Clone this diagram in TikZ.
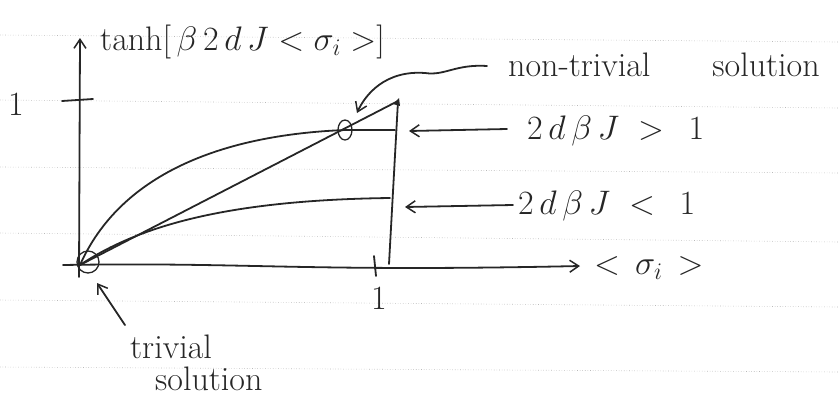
\RequirePackage{fix-cm}
\documentclass[tikz,border=0pt]{standalone}
\usetikzlibrary{arrows.meta}
\begin{document}
\begin{tikzpicture}[x=1pt,y=-1pt,
  ink/.style={line width=1.8pt,line cap=round,line join=round,black!85},
  barb/.style={-{Straight Barb[length=9pt,width=12pt,line width=1.5pt]}},
  rule/.style={gray!55,dotted,line width=0.6pt},
  lbl/.style={font=\fontsize{34}{36}\selectfont,inner sep=0pt,text=black!85},
  ]
\useasboundingbox (0,0) rectangle (838,397);
% ruled paper
\foreach \a/\b in {35/42,100/108,167/173,233/242,300/307,367/372}
  \draw[rule] (0,\a) -- (838,\b);
% coordinates
\coordinate (O) at (80,265);
\coordinate (ybot) at (79,277);
\coordinate (ytop) at (80,38);
\coordinate (xl) at (63,265);
\coordinate (xr) at (580,266);
\coordinate (P) at (345,130);
\coordinate (top) at (398,101);
\coordinate (vb) at (389,264);
\coordinate (c1e) at (395,130);
\coordinate (c2e) at (390,198);
% axes
\draw[ink,barb] (ybot) -- (ytop);
\draw[ink,barb] (xl) .. controls (250,262) and (300,272) .. (xr);
% ticks
\draw[ink] (62,101) -- (93,99);
\draw[ink] (374,256) -- (376,276);
% vertical line at 1
\draw[ink] (top) -- (vb);
\fill[black!85] (top) ++(-5,3) -- ++(6,-6) -- ++(1,8) -- cycle;
% curves
\draw[ink] (O) .. controls (120,175) and (220,135) .. (P) -- (c1e);
\draw[ink] (O) -- (top);
\draw[ink] (O) .. controls (140,225) and (230,200) .. (c2e);
% circles
\draw[ink,line width=1.3pt] (P) ellipse (7 and 10);
\draw[ink,line width=1.3pt] (88,262) circle (11);
% labels
\node[lbl,anchor=base west] (title) at (100,50) {$\tanh\bigl[\,\beta\,2\,d\,J<\sigma_i>\bigr]$};
\node[lbl] (one) at (16,104) {1};
\node[lbl] (onex) at (379,298) {1};
\node[lbl,anchor=west] (sig) at (594,268) {$<\,\sigma_i\,>$};
\node[lbl,anchor=base west] (nontriv) at (508,76) {non-trivial\hspace{62pt}solution};
\node[lbl,anchor=west] (gt) at (527,131) {$2\,d\,\beta\,J\;>\;\,1$};
\node[lbl,anchor=west] (lt) at (518,206) {$2\,d\,\beta\,J\;<\;\,1$};
\node[lbl,anchor=base west] (triv) at (130,358) {trivial};
\node[lbl,anchor=base west] (sol) at (155,390) {solution};
% arrows to labels
\coordinate (ntS) at (487,66);
\coordinate (ntA) at (357,113);
\draw[ink,barb] (ntS) .. controls (455,64) and (445,76) .. (425,73) .. controls (385,70) and (365,95) .. (ntA);
\draw[ink,barb] (gt.west) ++(-20,-2) -- (409,131);
\draw[ink,barb] (lt.west) ++(-5,-1) -- (405,207);
\draw[ink,barb] (125,325) -- (97,283);
\end{tikzpicture}
\end{document}
